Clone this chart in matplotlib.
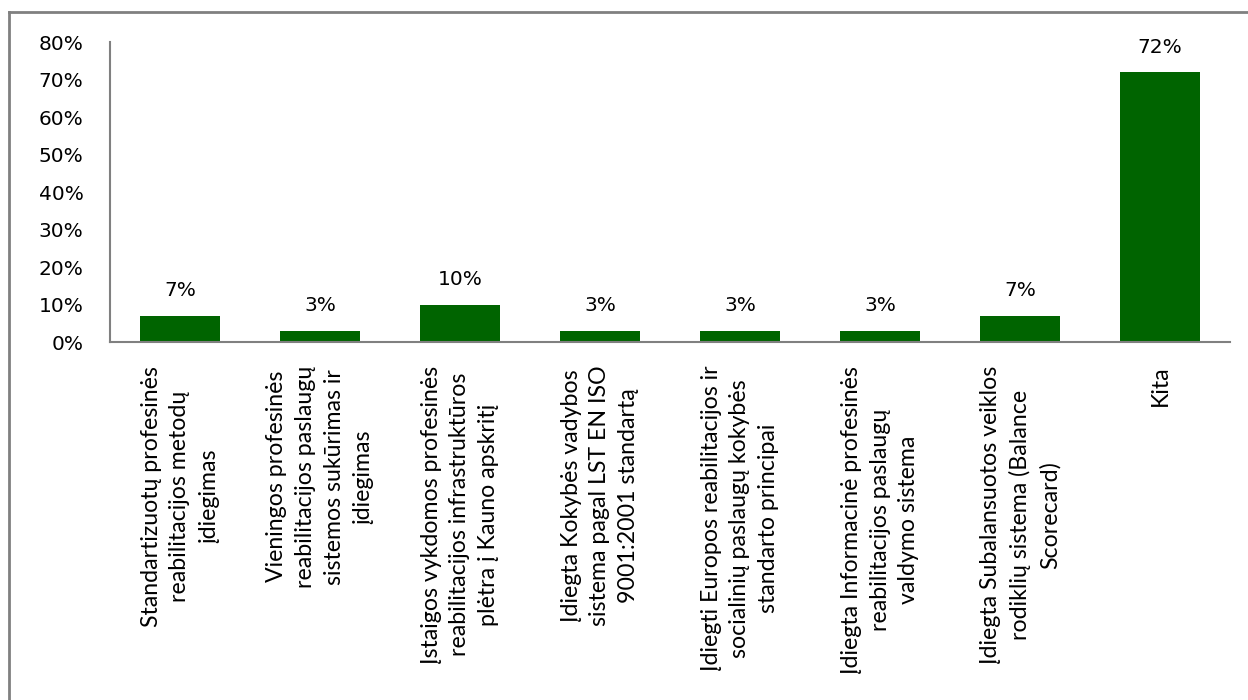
import matplotlib
matplotlib.use("Agg")
import matplotlib.pyplot as plt
from matplotlib.lines import Line2D
from matplotlib.ticker import PercentFormatter

categories = [
    "Standartizuotų profesinės\nreabilitacijos metodų\nįdiegimas",
    "Vieningos profesinės\nreabilitacijos paslaugų\nsistemos sukūrimas ir\nįdiegimas",
    "Įstaigos vykdomos profesinės\nreabilitacijos infrastruktūros\nplėtra į Kauno apskritį",
    "Įdiegta Kokybės vadybos\nsistema pagal LST EN ISO\n9001:2001 standartą",
    "Įdiegti Europos reabilitacijos ir\nsocialinių paslaugų kokybės\nstandarto principai",
    "Įdiegta Informacinė profesinės\nreabilitacijos paslaugų\nvaldymo sistema",
    "Įdiegta Subalansuotos veiklos\nrodiklių sistema (Balance\nScorecard)",
    "Kita",
]
values = [7, 3, 10, 3, 3, 3, 7, 72]
value_labels = ["7%", "3%", "10%", "3%", "3%", "3%", "7%", "72%"]
y_ticks = [0, 10, 20, 30, 40, 50, 60, 70, 80]

fig = plt.figure(figsize=(12.48, 7), dpi=100)
ax = fig.add_axes([0.0881, 0.5114, 0.8975, 0.4286])

x = range(len(values))
ax.bar(x, values, width=0.57, color="#006400", zorder=2)

for xi, v, lab in zip(x, values, value_labels):
    ax.annotate(lab, (xi, v), xytext=(0, 18), textcoords="offset points",
                ha="center", va="center", fontsize=14.5, color="black",
                family="DejaVu Sans")

ax.set_xlim(-0.5, len(values) - 0.5)
ax.set_ylim(0, 80)
ax.set_yticks(y_ticks)
ax.yaxis.set_major_formatter(PercentFormatter(decimals=0))
ax.tick_params(axis="y", length=0, pad=19, labelsize=14.5)
ax.tick_params(axis="x", length=0, pad=17)
ax.set_xticks(list(x))
ax.set_xticklabels(categories, rotation=90, ha="center", va="top",
                   multialignment="center", family="Lato", fontsize=16.7,
                   linespacing=1.45)

for side in ("top", "right"):
    ax.spines[side].set_visible(False)
for side in ("left", "bottom"):
    ax.spines[side].set_color("#808080")
    ax.spines[side].set_linewidth(1.5)

# outer frame of the chart area (left and top edges)
fig.add_artist(Line2D([9 / 1248, 9 / 1248], [0, 1 - 12 / 700],
                      transform=fig.transFigure, color="#808080", lw=2))
fig.add_artist(Line2D([9 / 1248, 1], [1 - 12 / 700, 1 - 12 / 700],
                      transform=fig.transFigure, color="#808080", lw=2))

fig.savefig("out.png", dpi=100)
